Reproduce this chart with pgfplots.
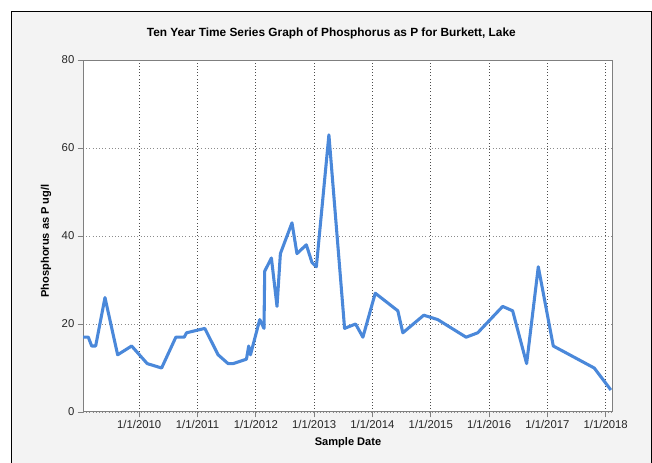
\documentclass[border=0pt]{standalone}
\usepackage{pgfplots}
\pgfplotsset{compat=1.18}
\usepackage{fontspec}
\setmainfont{Liberation Sans}
\definecolor{panel}{HTML}{F3F3F3}
\definecolor{linec}{HTML}{4A88DA}
\definecolor{framec}{HTML}{7F7F7F}
\begin{document}
\begin{tikzpicture}
\useasboundingbox (0,0) rectangle (489pt,347.25pt);
\fill[white] (0,0) rectangle (489pt,347.25pt);
\fill[panel] (8.25pt,-2pt) rectangle (488.25pt,338.25pt);
\draw[black, line width=0.75pt] (8.25pt,-2pt) -- (8.25pt,338.25pt) -- (488.25pt,338.25pt) -- (488.25pt,-2pt);
\node[font=\fontsize{8.9}{10}\selectfont\bfseries] at (248.5pt,322.5pt) {Ten Year Time Series Graph of Phosphorus as P for Burkett, Lake};
\begin{axis}[
  at={(62.25pt,38.25pt)}, anchor=south west,
  scale only axis, width=396.75pt, height=264pt,
  xmin=2009.036, xmax=2018.108, ymin=0, ymax=80,
  xtick={2010,2011,2012,2013,2014,2015,2016,2017,2018},
  xticklabels={1/1/2010,1/1/2011,1/1/2012,1/1/2013,1/1/2014,1/1/2015,1/1/2016,1/1/2017,1/1/2018},
  ytick={0,20,40,60,80},
  tick align=outside, tick pos=left,
  major tick length=4pt,
  tick style={framec, line width=0.6pt},
  axis line style={framec, line width=0.75pt},
  axis background/.style={fill=white},
  grid=major,
  xmajorgrids, ymajorgrids,
  x grid style={dotted, black!70, line width=0.6pt},
  y grid style={dotted, black!45, line width=0.6pt},
  ticklabel style={font=\fontsize{8.5}{10}\selectfont, text=black!85},
  /pgf/number format/assume math mode=true,
  xticklabel style={yshift=1pt},
  yticklabel style={xshift=1pt},
  clip=false,
]
\addplot[linec, line width=2.3pt, line join=round] coordinates {
(2009.036,17) (2009.127,17) (2009.185,15) (2009.253,15) (2009.413,26)
(2009.630,13) (2009.870,15) (2010.137,11) (2010.384,10) (2010.628,17)
(2010.771,17) (2010.812,18) (2011.125,19) (2011.353,13) (2011.524,11)
(2011.610,11) (2011.839,12) (2011.878,15) (2011.908,13) (2012.067,21)
(2012.140,19) (2012.152,32) (2012.267,35) (2012.363,24) (2012.421,36)
(2012.620,43) (2012.705,36) (2012.866,38) (2012.962,34) (2013.038,33)
(2013.253,63) (2013.522,19) (2013.711,20) (2013.836,17) (2014.048,27)
(2014.435,23) (2014.521,18) (2014.880,22) (2015.120,21) (2015.606,17)
(2015.805,18) (2016.233,24) (2016.404,23) (2016.644,11) (2016.844,33)
(2017.101,15) (2017.803,10) (2018.089,5)
};
\end{axis}
\node[font=\fontsize{8.3}{10}\selectfont\bfseries, rotate=90] at (34.5pt,166.5pt) {Phosphorus as P ug/l};
\node[font=\fontsize{8.3}{10}\selectfont\bfseries] at (261pt,15.5pt) {Sample Date};
\end{tikzpicture}
\end{document}
